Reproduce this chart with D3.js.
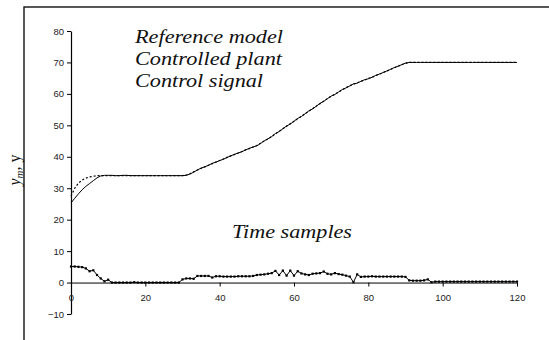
<!DOCTYPE html>
<html><head><meta charset="utf-8">
<script src="https://cdn.jsdelivr.net/npm/d3@7"></script>
<style>html,body{margin:0;padding:0;background:#fff;} svg{display:block;}</style>
</head><body>
<svg id="c" width="549" height="340"></svg>
<script>
const xTicks = [0, 20, 40, 60, 80, 100, 120];
const yTicks = [-10, 0, 10, 20, 30, 40, 50, 60, 70, 80];
const legendLabels = ["Reference model", "Controlled plant", "Control signal"];
const xAxisTitle = "Time samples";

const referenceModel = [
 27.5,30.0,31.6,32.6,33.2,33.6,33.8,34.0,34.0,34.0,
 34.0,34.0,34.0,34.0,34.0,34.0,34.0,34.0,34.0,34.0,
 34.0,34.0,34.0,34.0,34.0,34.0,34.0,34.0,34.0,34.0,
 34.0,34.2,34.6,35.2,35.8,36.3,36.8,37.3,37.8,38.3,
 38.8,39.3,39.8,40.3,40.7,41.2,41.7,42.2,42.6,43.1,
 43.6,44.3,45.0,45.7,46.5,47.3,48.1,48.9,49.7,50.5,
 51.3,52.1,52.9,53.7,54.5,55.3,56.1,56.9,57.7,58.5,
 59.2,59.9,60.6,61.3,62.0,62.6,63.1,63.5,64.0,64.4,
 64.9,65.3,65.8,66.3,66.8,67.3,67.8,68.3,68.8,69.3,
 69.7,70.0,70.0,70.0,70.0,70.0,70.0,70.0,70.0,70.0,
 70.0,70.0,70.0,70.0,70.0,70.0,70.0,70.0,70.0,70.0,
 70.0,70.0,70.0,70.0,70.0,70.0,70.0,70.0,70.0,70.0,
 70.0];

const controlledPlant = [
 25.3,26.8,28.2,29.5,30.6,31.5,32.4,33.3,33.9,34.1,
 34.1,34.1,34.0,34.0,34.1,34.1,34.0,34.0,34.0,34.0,
 34.0,34.0,34.0,34.0,34.0,34.0,34.0,34.0,34.0,34.0,
 34.0,34.1,34.5,35.1,35.8,36.4,36.8,37.3,37.9,38.3,
 38.8,39.2,39.8,40.3,40.8,41.2,41.6,42.2,42.7,43.1,
 43.5,44.2,45.1,45.7,46.4,47.4,48.0,48.9,49.8,50.4,
 51.3,52.2,52.8,53.7,54.6,55.2,56.1,57.0,57.6,58.5,
 59.3,59.8,60.6,61.4,61.9,62.5,63.2,63.4,64.0,64.5,
 64.8,65.3,65.9,66.3,66.8,67.3,67.8,68.4,68.8,69.3,
 69.8,70.0,70.0,70.0,70.0,70.0,70.0,70.0,70.0,70.0,
 70.0,70.0,70.0,70.0,70.0,70.0,70.0,70.0,70.0,70.0,
 70.0,70.0,70.0,70.0,70.0,70.0,70.0,70.0,70.0,70.0,
 70.0];

const controlSignal = [
 5.1,5.1,5.0,4.9,4.5,3.6,3.9,2.4,1.3,0.4,
 0.9,0.0,0.0,0.0,0.0,0.0,0.0,0.1,0.0,0.0,
 0.0,0.0,0.0,0.0,0.0,0.0,0.0,0.0,0.0,0.0,
 1.0,1.3,1.3,1.2,2.1,2.1,2.1,2.1,1.6,2.0,
 2.0,1.9,1.9,1.9,1.9,2.0,2.0,2.0,2.0,2.1,
 2.4,2.5,2.6,2.8,3.0,3.7,2.4,3.8,2.2,3.8,
 2.2,3.6,2.9,2.6,2.4,2.8,2.9,3.0,3.5,2.8,
 2.6,3.0,2.7,2.5,2.2,1.9,0.1,2.6,1.8,1.9,
 1.9,2.0,1.9,1.9,1.9,1.9,1.9,1.9,1.9,1.9,
 1.8,0.7,0.6,0.6,0.6,0.7,1.0,0.1,0.3,0.3,
 0.3,0.3,0.3,0.3,0.3,0.3,0.3,0.3,0.3,0.3,
 0.3,0.3,0.3,0.3,0.3,0.3,0.3,0.3,0.3,0.3,
 0.3];

const svg = d3.select("#c");
const x = d3.scaleLinear().domain([0, 120]).range([71, 517]);
const y = d3.scaleLinear().domain([-10, 80]).range([314, 31]);

// frame (cut off at right & bottom)
svg.append("rect").attr("x", 24).attr("y", 7).attr("width", 700).attr("height", 500)
  .attr("fill", "none").attr("stroke", "#111").attr("stroke-width", 1.4);

const tickFont = "Liberation Sans";
const serif = "Liberation Serif";

// Y axis
const gy = svg.append("g").attr("transform", `translate(${x(0)},0)`)
  .call(d3.axisLeft(y).tickValues(yTicks).tickSize(4).tickPadding(3).tickSizeOuter(0));
gy.selectAll("text").attr("font-family", tickFont).attr("font-size", 9.5).attr("fill", "#222");
gy.select(".domain").attr("stroke", "#000").attr("stroke-width", 1.2);

// X axis at y=0
const gx = svg.append("g").attr("transform", `translate(0,${y(0)})`)
  .call(d3.axisBottom(x).tickValues(xTicks).tickSize(4).tickPadding(8).tickSizeOuter(0));
gx.selectAll("text").attr("font-family", tickFont).attr("font-size", 9.5).attr("fill", "#222");
gx.select(".domain").attr("stroke", "#000").attr("stroke-width", 1);

const line = d3.line().x((d, i) => x(i)).y(d => y(d));

svg.append("path").datum(referenceModel).attr("d", line)
  .attr("fill", "none").attr("stroke", "#000").attr("stroke-width", 1.2)
  .attr("stroke-dasharray", "2,2");
svg.append("path").datum(controlledPlant).attr("d", line)
  .attr("fill", "none").attr("stroke", "#000").attr("stroke-width", 1);

svg.append("path").datum(controlSignal).attr("d", line)
  .attr("fill", "none").attr("stroke", "#000").attr("stroke-width", 1);
svg.append("g").selectAll("rect").data(controlSignal).join("rect")
  .attr("x", (d, i) => x(i) - 1.1).attr("y", d => y(d) - 1.1)
  .attr("width", 2.2).attr("height", 2.2).attr("fill", "#000");

const legendWidths = [148, 147, 128];
legendLabels.forEach((t, i) => {
  svg.append("text").attr("font-family", serif).attr("x", 135).attr("y", 43 + i * 22)
    .attr("font-style", "italic").attr("font-size", 19)
    .attr("fill", "#111")
    .attr("textLength", legendWidths[i]).attr("lengthAdjust", "spacingAndGlyphs")
    .text(t);
});

svg.append("text").attr("font-family", serif).attr("x", 232).attr("y", 238)
  .attr("font-style", "italic").attr("font-size", 19)
  .attr("fill", "#111")
  .attr("textLength", 120).attr("lengthAdjust", "spacingAndGlyphs")
  .text(xAxisTitle);

// y-axis title
const yt = svg.append("text").attr("font-family", serif).attr("transform", "translate(20,170) rotate(-90)")
  .attr("text-anchor", "middle").attr("font-size", 16).attr("fill", "#111");
yt.append("tspan").attr("font-style", "italic").text("y");
yt.append("tspan").attr("font-style", "italic").attr("font-size", 11).attr("dy", 3).text("m");
yt.append("tspan").attr("dy", -3).text(", y");
</script>
</body></html>
